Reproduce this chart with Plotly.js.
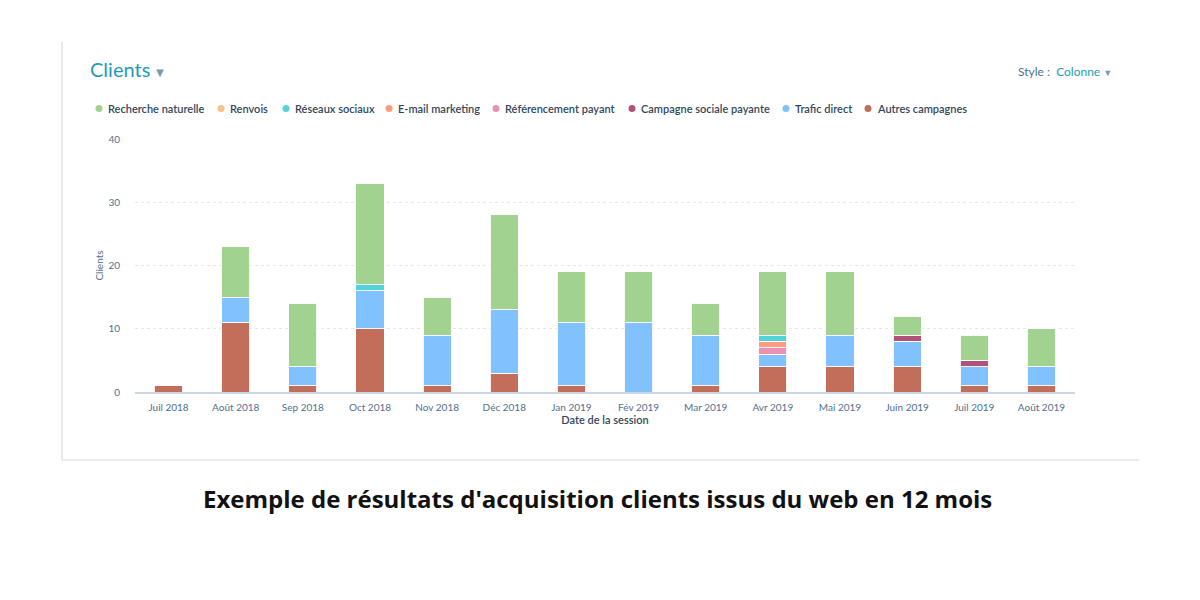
<!DOCTYPE html>
<html><head><meta charset="utf-8">
<script src="https://cdn.plot.ly/plotly-3.0.1.min.js"></script>
<style>html,body{margin:0;padding:0;background:#fff}#chart{width:1200px;height:600px}</style>
</head><body><div id="chart"></div>
<script>
const months = ["Juil 2018","Août 2018","Sep 2018","Oct 2018","Nov 2018","Déc 2018","Jan 2019","Fév 2019","Mar 2019","Avr 2019","Mai 2019","Juin 2019","Juil 2019","Août 2019"];
const rechercheNaturelle   = [0, 8, 10, 16, 6, 15, 8, 8, 5, 10, 10, 3, 4, 6];
const renvois              = [0, 0, 0, 0, 0, 0, 0, 0, 0, 0, 0, 0, 0, 0];
const reseauxSociaux       = [0, 0, 0, 1, 0, 0, 0, 0, 0, 1, 0, 0, 0, 0];
const emailMarketing       = [0, 0, 0, 0, 0, 0, 0, 0, 0, 1, 0, 0, 0, 0];
const referencementPayant  = [0, 0, 0, 0, 0, 0, 0, 0, 0, 1, 0, 0, 0, 0];
const campagneSociale      = [0, 0, 0, 0, 0, 0, 0, 0, 0, 0, 0, 1, 1, 0];
const traficDirect         = [0, 4, 3, 6, 8, 10, 10, 11, 8, 2, 5, 4, 3, 3];
const autresCampagnes      = [1, 11, 1, 10, 1, 3, 1, 0, 1, 4, 4, 4, 1, 1];
const yTicks = [0, 10, 20, 30, 40];

// legend order (left to right)
const seriesNames  = ["Recherche naturelle","Renvois","Réseaux sociaux","E-mail marketing","Référencement payant","Campagne sociale payante","Trafic direct","Autres campagnes"];
const seriesValues = [rechercheNaturelle, renvois, reseauxSociaux, emailMarketing, referencementPayant, campagneSociale, traficDirect, autresCampagnes];
const seriesColors = ["#a2d28f","#f5c28b","#51d3d9","#ff9c80","#ea90b1","#b0527a","#81c1fd","#c26e5b"];

// pixel helpers
const L = 135, R = 1075, T = 139, B = 392;
const px = x => (x - L) / (R - L);
const py = y => (B - y) / (B - T);

const traces = [];
for (let i = seriesNames.length - 1; i >= 0; i--) {
  traces.push({
    type: 'bar', name: seriesNames[i], x: months,
    y: seriesValues[i].map(v => v === 0 ? null : v),
    marker: {color: seriesColors[i], line: {color: 'rgba(255,255,255,0.9)', width: 1}},
    showlegend: false, hoverinfo: 'x+y+name'
  });
}

const legendDotX = [99, 221, 286, 389, 496, 632, 786, 868];
const annotations = [];
const shapes = [];
seriesNames.forEach((n, i) => {
  shapes.push({type: 'circle', xref: 'paper', yref: 'paper', xsizemode: 'pixel', ysizemode: 'pixel',
    xanchor: px(legendDotX[i]), yanchor: py(108.5), x0: -3.5, x1: 3.5, y0: -3.5, y1: 3.5,
    fillcolor: seriesColors[i], line: {width: 0}});
  annotations.push({xref: 'paper', yref: 'paper', x: px(legendDotX[i] + 7), y: py(108), xanchor: 'left', yanchor: 'middle',
    text: n, showarrow: false, font: {family: 'Lato', size: 11, color: '#33475b', weight: 600}});
});
// card borders
shapes.push({type: 'line', xref: 'paper', yref: 'paper', x0: px(62), x1: px(62), y0: py(42), y1: py(460), line: {color: '#e6e9ed', width: 2}, layer: 'below'});
shapes.push({type: 'line', xref: 'paper', yref: 'paper', x0: px(62), x1: px(1139), y0: py(460), y1: py(460), line: {color: '#e6e9ed', width: 2}, layer: 'below'});

annotations.push({xref: 'paper', yref: 'paper', x: px(88), y: py(69), xanchor: 'left', yanchor: 'middle', showarrow: false,
  text: 'Clients<span style="font-size:13px;color:#7c98b6"> ▼</span>', font: {family: 'Lato', size: 20, color: '#1f9bb9'}});
annotations.push({xref: 'paper', yref: 'paper', x: px(1114), y: py(71), xanchor: 'right', yanchor: 'middle', showarrow: false,
  text: 'Style :  <span style="color:#1f9bb9">Colonne</span> <span style="font-size:9px;color:#7c98b6">▼</span>', font: {family: 'Lato', size: 12, color: '#516f90'}});
annotations.push({xref: 'paper', yref: 'paper', x: px(597), y: py(498), xanchor: 'center', yanchor: 'middle', showarrow: false,
  text: "<b>Exemple de résultats d'acquisition clients issus du web en 12 mois</b>", font: {family: 'Open Sans', size: 24, color: '#111111'}});

const layout = {
  width: 1200, height: 600,
  margin: {l: L, r: 1200 - R, t: T, b: 600 - B, pad: 0},
  paper_bgcolor: '#ffffff', plot_bgcolor: '#ffffff',
  barmode: 'stack', bargap: 0.58,
  showlegend: false,
  font: {family: 'Lato', color: '#516f90'},
  xaxis: {
    type: 'category', range: [-0.5, 13.5], showgrid: false, zeroline: false,
    showline: true, linecolor: '#cbd6e2', linewidth: 2, ticks: '',
    tickfont: {family: 'Lato', size: 10, color: '#516f90'}, ticklabelstandoff: 5,
    title: {text: 'Date de la session', font: {family: 'Lato', size: 11, color: '#33475b', weight: 600}, standoff: 4}
  },
  yaxis: {
    range: [0, 40], tickvals: yTicks, showgrid: true, gridcolor: '#e3e7ee', griddash: 'dot', gridwidth: 1,
    zeroline: false, showline: false, ticks: '', ticklabelstandoff: 14,
    tickfont: {family: 'Lato', size: 10, color: '#516f90'},
    title: {text: 'Clients', font: {family: 'Lato', size: 10, color: '#516f90'}, standoff: 2}
  },
  shapes: shapes, annotations: annotations
};
Plotly.newPlot('chart', traces, layout, {displayModeBar: false, staticPlot: true});
</script></body></html>
